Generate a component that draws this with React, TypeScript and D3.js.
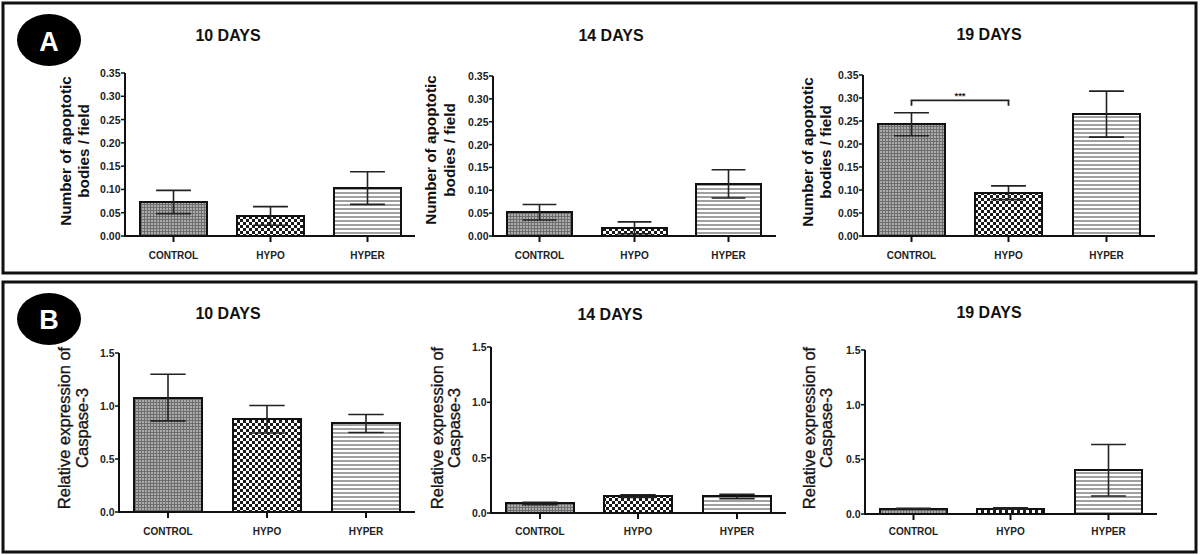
import React from "react";
import * as d3 from "d3";

// ---------- data ----------
const categories = ["CONTROL", "HYPO", "HYPER"];
const dayTitles = ["10 DAYS", "14 DAYS", "19 DAYS"];

const apoptotic10 = [0.073, 0.043, 0.103];
const apoptotic10Err = [0.025, 0.02, 0.035];
const apoptotic14 = [0.052, 0.018, 0.114];
const apoptotic14Err = [0.017, 0.013, 0.031];
const apoptotic19 = [0.243, 0.094, 0.265];
const apoptotic19Err = [0.025, 0.015, 0.05];

const caspase10 = [1.08, 0.875, 0.835];
const caspase10Err = [0.22, 0.13, 0.085];
const caspase14 = [0.086, 0.153, 0.15];
const caspase14Err = [0.01, 0.012, 0.02];
const caspase19 = [0.05, 0.05, 0.4];
const caspase19Err = [0.003, 0.006, 0.235];

const apoptoticTicks = [0, 0.05, 0.1, 0.15, 0.2, 0.25, 0.3, 0.35];
const caspaseTicks = [0, 0.5, 1.0, 1.5];

const apoptoticLabel = ["Number of apoptotic", "bodies / field"];
const caspaseLabel = ["Relative expression of", "Caspase-3"];

const sigPair = ["CONTROL", "HYPO"];
const sigLevel = 0.295;
const sigText = "***";

// ---------- layout ----------
const FONT = "'Liberation Sans', Arial, sans-serif";

type ChartLayout = {
  axisX: number; axisEnd: number; y0: number; yTop: number;
  titleX: number; titleY: number;
  labelX: [number, number]; labelY: number;
  catY: number;
};

const layoutsA: ChartLayout[] = [
  { axisX: 125, axisEnd: 415, y0: 236, yTop: 73, titleX: 228, titleY: 35, labelX: [65, 83], labelY: 151, catY: 255 },
  { axisX: 493, axisEnd: 776, y0: 236, yTop: 76, titleX: 611, titleY: 35, labelX: [430, 449], labelY: 150, catY: 255 },
  { axisX: 863, axisEnd: 1155, y0: 236, yTop: 75, titleX: 989, titleY: 34, labelX: [807, 825], labelY: 152, catY: 255 },
];
const layoutsB: ChartLayout[] = [
  { axisX: 119, axisEnd: 415, y0: 512, yTop: 353, titleX: 228, titleY: 313, labelX: [64, 82], labelY: 428, catY: 531 },
  { axisX: 491, axisEnd: 786, y0: 513, yTop: 347, titleX: 610, titleY: 314, labelX: [437, 454], labelY: 428, catY: 531 },
  { axisX: 865, axisEnd: 1157, y0: 514, yTop: 350, titleX: 989, titleY: 312, labelX: [809, 826], labelY: 428, catY: 531 },
];

const patternIds = ["pat-control", "pat-hypo", "pat-hyper"];

type ChartProps = {
  layout: ChartLayout;
  title: string;
  values: number[];
  errors: number[];
  ticks: number[];
  tickFmt: (v: number) => string;
  label: string[];
  labelBold: boolean;
  sig?: boolean;
};

function BarChart({ layout, title, values, errors, ticks, tickFmt, label, labelBold, sig }: ChartProps) {
  const L = layout;
  const yMax = ticks[ticks.length - 1];
  const y = d3.scaleLinear().domain([0, yMax]).range([L.y0, L.yTop]);
  const x = d3
    .scaleBand<string>()
    .domain(categories)
    .range([L.axisX, L.axisEnd])
    .paddingInner(0.31)
    .paddingOuter(0.15);
  const bw = Math.round(x.bandwidth());
  const capW = bw * 0.52;

  return (
    <g>
      <text x={L.titleX} y={L.titleY} textAnchor="middle" dominantBaseline="central"
        fontFamily={FONT} fontWeight="bold" fontSize={16} fill="#111">{title}</text>

      {label.map((t, i) => (
        <text key={i} transform={`translate(${L.labelX[i]},${L.labelY}) rotate(-90)`}
          textAnchor="middle" dominantBaseline="central" fontFamily={FONT}
          fontWeight={labelBold ? "bold" : "normal"} fontSize={labelBold ? 15.3 : 16.5}
          stroke={labelBold ? "none" : "#222"} strokeWidth={labelBold ? 0 : 0.35}
          fill="#111">{t}</text>
      ))}

      {/* bars */}
      {categories.map((c, i) => {
        const bx = Math.round(x(c)!);
        const top = Math.round(y(values[i]));
        return (
          <rect key={c} x={bx} y={top} width={bw} height={L.y0 - top}
            fill={`url(#${patternIds[i]})`} stroke="#111" strokeWidth={2} />
        );
      })}

      {/* error bars */}
      {categories.map((c, i) => {
        const cx = Math.round(x(c)!) + bw / 2;
        const hi = y(values[i] + errors[i]);
        const lo = y(Math.max(0, values[i] - errors[i]));
        return (
          <g key={c} stroke="#222" strokeWidth={1.6}>
            <line x1={cx} x2={cx} y1={hi} y2={lo} />
            <line x1={cx - capW / 2} x2={cx + capW / 2} y1={hi} y2={hi} />
            <line x1={cx - capW / 2} x2={cx + capW / 2} y1={lo} y2={lo} />
          </g>
        );
      })}

      {/* y axis */}
      <line x1={L.axisX} x2={L.axisX} y1={L.y0 + 1} y2={y(yMax)} stroke="#111" strokeWidth={2} />
      {ticks.map((t) => (
        <g key={t}>
          <line x1={L.axisX - 4} x2={L.axisX} y1={y(t)} y2={y(t)} stroke="#111" strokeWidth={1.5} />
          <text x={L.axisX - 4.5} y={y(t)} textAnchor="end" dominantBaseline="central"
            fontFamily={FONT} fontWeight="bold" fontSize={10.5} fill="#222">{tickFmt(t)}</text>
        </g>
      ))}

      {/* x axis */}
      <line x1={L.axisX} x2={L.axisEnd} y1={L.y0} y2={L.y0} stroke="#111" strokeWidth={2} />
      {categories.map((c) => {
        const cx = Math.round(x(c)!) + bw / 2;
        return (
          <g key={c}>
            <line x1={cx} x2={cx} y1={L.y0} y2={L.y0 + 6} stroke="#111" strokeWidth={2} />
            <text x={cx} y={L.catY} textAnchor="middle" dominantBaseline="central"
              fontFamily={FONT} fontWeight="bold" fontSize={10} fill="#222">{c}</text>
          </g>
        );
      })}

      {sig && (() => {
        const x1 = Math.round(x(sigPair[0])!) + bw / 2;
        const x2 = Math.round(x(sigPair[1])!) + bw / 2;
        const yl = y(sigLevel);
        const yd = y(sigLevel - 0.012);
        return (
          <g>
            <path d={`M${x1},${yd} V${yl} H${x2} V${yd}`} fill="none" stroke="#222" strokeWidth={1.8} />
            <text x={(x1 + x2) / 2} y={yl - 5} textAnchor="middle" dominantBaseline="central"
              fontFamily={FONT} fontWeight="bold" fontSize={9.5} fill="#222">{sigText}</text>
          </g>
        );
      })()}
    </g>
  );
}

export default function App() {
  const fmtA = d3.format(".2f");
  const fmtB = d3.format(".1f");
  const aVals = [apoptotic10, apoptotic14, apoptotic19];
  const aErrs = [apoptotic10Err, apoptotic14Err, apoptotic19Err];
  const bVals = [caspase10, caspase14, caspase19];
  const bErrs = [caspase10Err, caspase14Err, caspase19Err];

  return (
    <svg width={1200} height={555} style={{ position: "absolute", left: 0, top: 0, background: "#fff" }}>
      <defs>
        <pattern id="pat-control" width={3} height={3} patternUnits="userSpaceOnUse">
          <rect width={3} height={3} fill="#6e6e6e" />
          <rect x={1} y={1} width={2} height={2} fill="#ababab" />
        </pattern>
        <pattern id="pat-hypo" width={6} height={6} patternUnits="userSpaceOnUse">
          <rect width={6} height={6} fill="#1a1a1a" />
          <rect width={3} height={3} fill="#fff" />
          <rect x={3} y={3} width={3} height={3} fill="#fff" />
        </pattern>
        <pattern id="pat-hyper" width={4} height={4} patternUnits="userSpaceOnUse">
          <rect width={4} height={4} fill="#fff" />
          <rect width={4} height={2} fill="#a0a0a0" />
        </pattern>
      </defs>
      <rect width={1200} height={555} fill="#fff" />

      {/* panel borders */}
      <rect x={3} y={3} width={1193} height={270} fill="none" stroke="#111" strokeWidth={3} />
      <rect x={3} y={282} width={1193} height={270} fill="none" stroke="#111" strokeWidth={3} />

      {/* panel letters */}
      <ellipse cx={49} cy={40} rx={32} ry={26} fill="#000" />
      <text x={49} y={42} textAnchor="middle" dominantBaseline="central" fontFamily={FONT}
        fontWeight="bold" fontSize={27} fill="#fff">A</text>
      <ellipse cx={49} cy={319} rx={32} ry={26} fill="#000" />
      <text x={49} y={320} textAnchor="middle" dominantBaseline="central" fontFamily={FONT}
        fontWeight="bold" fontSize={27} fill="#fff">B</text>

      {layoutsA.map((L, i) => (
        <BarChart key={"a" + i} layout={L} title={dayTitles[i]} values={aVals[i]} errors={aErrs[i]}
          ticks={apoptoticTicks} tickFmt={fmtA} label={apoptoticLabel} labelBold={true} sig={i === 2} />
      ))}
      {layoutsB.map((L, i) => (
        <BarChart key={"b" + i} layout={L} title={dayTitles[i]} values={bVals[i]} errors={bErrs[i]}
          ticks={caspaseTicks} tickFmt={fmtB} label={caspaseLabel} labelBold={false} />
      ))}
    </svg>
  );
}
